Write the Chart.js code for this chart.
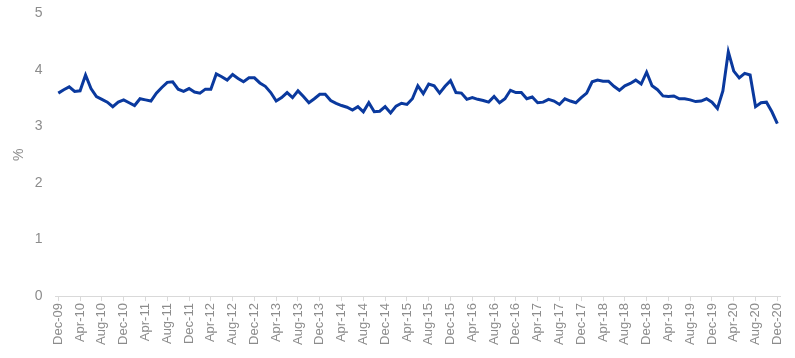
<!DOCTYPE html>
<html lang="en">
<head>
  <meta charset="UTF-8" />
  <title>Rate chart</title>
  <style>
    body {
      margin: 0;
      background: #fff;
    }
    #chartBox {
      width: 795px;
      height: 358px;
    }
  </style>
</head>
<body>
  <div id="chartBox">
    <canvas id="rateChart"></canvas>
  </div>

  <script src="https://cdn.jsdelivr.net/npm/chart.js"></script>
  <script>
    const MONTHS = ['Jan','Feb','Mar','Apr','May','Jun','Jul','Aug','Sep','Oct','Nov','Dec'];

    // months Dec-09 .. Dec-20
    const labels = ['Dec-09'];
    for (let y = 10; y <= 20; y++) {
      for (let m = 0; m < 12; m++) labels.push(MONTHS[m] + '-' + y);
    }

    const rates = [
      3.59, 3.65, 3.70, 3.62, 3.63, 3.91, 3.67, 3.53, 3.48, 3.43, 3.35, 3.43, 3.47,
      3.42, 3.37, 3.49, 3.47, 3.45, 3.59, 3.69, 3.78, 3.79, 3.66, 3.62, 3.67, 3.61,
      3.59, 3.66, 3.66, 3.93, 3.88, 3.82, 3.92, 3.85, 3.79, 3.86, 3.86, 3.77, 3.71,
      3.60, 3.45, 3.51, 3.60, 3.51, 3.63, 3.53, 3.42, 3.49, 3.57, 3.57, 3.46, 3.41,
      3.37, 3.34, 3.29, 3.35, 3.26, 3.42, 3.26, 3.27, 3.35, 3.24, 3.36, 3.41, 3.39,
      3.49, 3.72, 3.58, 3.75, 3.72, 3.59, 3.71, 3.81, 3.60, 3.59, 3.48, 3.51, 3.48,
      3.46, 3.43, 3.53, 3.42, 3.49, 3.64, 3.60, 3.60, 3.49, 3.52, 3.42, 3.43, 3.48,
      3.45, 3.39, 3.49, 3.45, 3.42, 3.51, 3.59, 3.79, 3.82, 3.80, 3.80, 3.71, 3.64,
      3.72, 3.76, 3.82, 3.75, 3.96, 3.72, 3.65, 3.54, 3.53, 3.54, 3.49, 3.49, 3.47,
      3.44, 3.45, 3.49, 3.43, 3.32, 3.63, 4.32, 3.98, 3.86, 3.94, 3.91, 3.35, 3.42,
      3.43, 3.26, 3.05
    ];

    const yTicks = [0, 1, 2, 3, 4, 5];
    const LABEL_EVERY = 4;

    const ctx = document.getElementById('rateChart').getContext('2d');
    new Chart(ctx, {
      type: 'line',
      data: {
        labels: labels,
        datasets: [{
          data: rates,
          borderColor: '#0a399e',
          borderWidth: 3,
          pointRadius: 0,
          tension: 0,
          fill: false
        }]
      },
      options: {
        responsive: true,
        maintainAspectRatio: false,
        animation: false,
        layout: { padding: { top: 7, right: 14, left: 11, bottom: 11 } },
        plugins: {
          legend: { display: false },
          tooltip: { enabled: false }
        },
        scales: {
          x: {
            offset: true,
            grid: {
              display: true,
              drawOnChartArea: false,
              drawTicks: true,
              tickLength: 5,
              color: c => (c.index % LABEL_EVERY === 0 ? '#d9d9d9' : 'rgba(0,0,0,0)')
            },
            border: { display: true, color: '#d9d9d9', width: 1 },
            ticks: {
              autoSkip: false,
              maxRotation: 90,
              minRotation: 90,
              padding: 2,
              color: '#8c8c8c',
              font: { family: 'Liberation Sans, Arial, sans-serif', size: 13 },
              callback: function (val, i) {
                return i % LABEL_EVERY === 0 ? this.getLabelForValue(val) : '';
              }
            }
          },
          y: {
            min: 0,
            max: 5,
            afterBuildTicks: axis => { axis.ticks = yTicks.map(v => ({ value: v })); },
            grid: { display: false },
            border: { display: false },
            ticks: {
              padding: 5,
              color: '#8c8c8c',
              font: { family: 'Liberation Sans, Arial, sans-serif', size: 14 }
            },
            title: {
              display: true,
              text: '%',
              color: '#8c8c8c',
              padding: { top: 0, bottom: 2 },
              font: { family: 'Liberation Sans, Arial, sans-serif', size: 14 }
            }
          }
        }
      }
    });
  </script>
</body>
</html>
